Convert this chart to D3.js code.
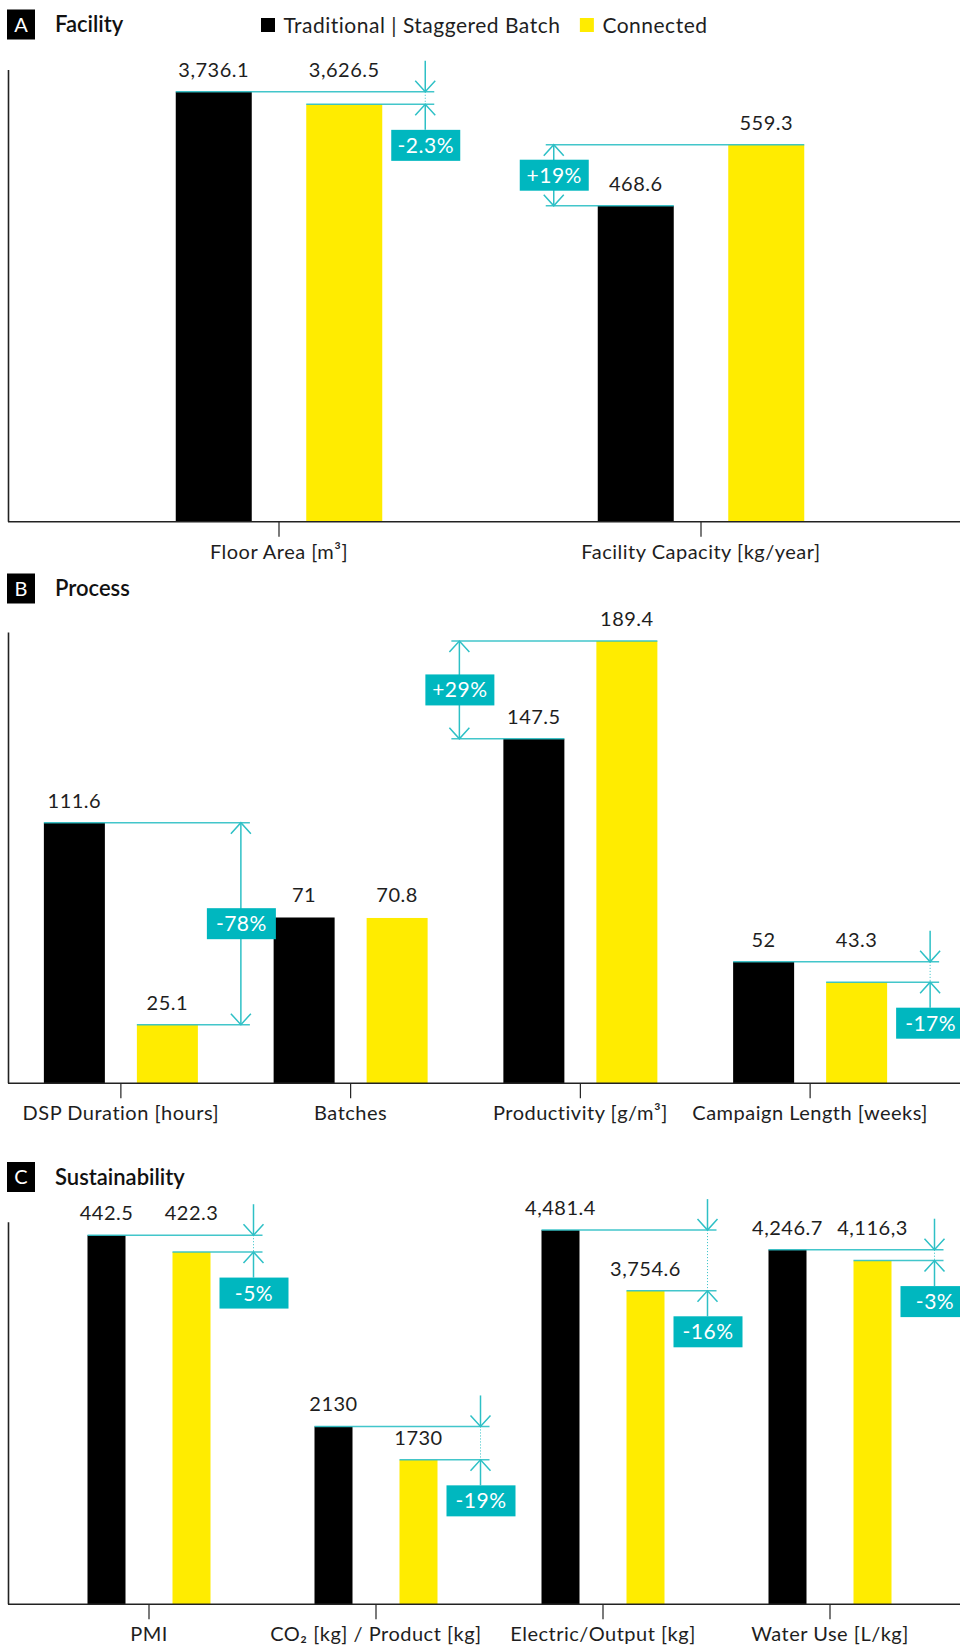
<!DOCTYPE html>
<html><head><meta charset="utf-8">
<script src="https://cdn.jsdelivr.net/npm/d3@7"></script>
<style>
body{margin:0;background:#fff;}
svg text{font-family:Lato,'Open Sans',sans-serif;}
</style></head><body>
<svg id="chart" width="960" height="1645"></svg>
<script>
// ---------------- data ----------------
const seriesNames = ["Traditional | Staggered Batch", "Connected"];

const facilityCategories = ["Floor Area [m³]", "Facility Capacity [kg/year]"];
const facilityTraditional = [3736.1, 468.6];
const facilityConnected = [3626.5, 559.3];
const facilityTradLabels = ["3,736.1", "468.6"];
const facilityConnLabels = ["3,626.5", "559.3"];
const facilityChange = ["-2.3%", "+19%"];
const facilityDomainMax = [3925, 670];

const processCategories = ["DSP Duration [hours]", "Batches", "Productivity [g/m³]", "Campaign Length [weeks]"];
const processTraditional = [111.6, 71, 147.5, 52];
const processConnected = [25.1, 70.8, 189.4, 43.3];
const processTradLabels = ["111.6", "71", "147.5", "52"];
const processConnLabels = ["25.1", "70.8", "189.4", "43.3"];
const processChange = ["-78%", null, "+29%", "-17%"];
const processDomainMax = [193, 193, 193, 193];

const sustCategories = ["PMI", "CO₂ [kg] / Product [kg]", "Electric/Output [kg]", "Water Use [L/kg]"];
const sustTraditional = [442.5, 2130, 4481.4, 4246.7];
const sustConnected = [422.3, 1730, 3754.6, 4116.3];
const sustTradLabels = ["442.5", "2130", "4,481.4", "4,246.7"];
const sustConnLabels = ["422.3", "1730", "3,754.6", "4,116,3"];
const sustChange = ["-5%", "-19%", "-16%", "-3%"];
const sustDomainMax = [458, 4575, 4575, 4575];

// ---------------- style ----------------
const C = {trad:"#000000", conn:"#FFEC00", box:"#00B7BF", line:"#2EC0C6", text:"#1e1e1e", axis:"#222"};
const FS = 20, LS = 0.5;
const svg = d3.select("#chart");

function header(letter, title, yc) {
  const g = svg.append("g");
  g.append("rect").attr("x", 7).attr("y", yc - 15).attr("width", 28).attr("height", 30).attr("fill", "#000");
  g.append("text").attr("x", 21).attr("y", yc).attr("dy", "0.36em").attr("text-anchor", "middle")
    .attr("fill", "#fff").attr("font-size", 20).text(letter);
  g.append("text").attr("x", 55).attr("y", yc).attr("dy", "0.36em").attr("font-size", 22)
    .attr("font-weight", 600).attr("fill", "#111").text(title);
}

function legend() {
  const g = svg.append("g");
  let x = 261;
  const cols = [C.trad, C.conn];
  seriesNames.forEach((n, i) => {
    g.append("rect").attr("x", x).attr("y", 18).attr("width", 14).attr("height", 14).attr("fill", cols[i]);
    const t = g.append("text").attr("x", x + 22.5).attr("y", 25).attr("dy", "0.36em")
      .attr("font-size", 21).attr("fill", C.text).attr("letter-spacing", LS).text(n);
    x += 22.5 + t.node().getComputedTextLength() + 19.5;
  });
}

function chevron(g, x, yTip, dir) { // dir +1 points down, -1 points up
  g.append("path").attr("d", `M${x - 10},${yTip - dir * 11}L${x},${yTip}L${x + 10},${yTip - dir * 11}`)
    .attr("fill", "none").attr("stroke", C.line).attr("stroke-width", 1.5);
}
function vline(g, x, y1, y2, dotted) {
  const l = g.append("line").attr("x1", x).attr("x2", x).attr("y1", y1).attr("y2", y2)
    .attr("stroke", C.line).attr("stroke-width", dotted ? 1 : 1.5);
  if (dotted) l.attr("stroke-dasharray", "1,2");
}
function hline(g, x1, x2, y) {
  g.append("line").attr("x1", x1).attr("x2", x2).attr("y1", y).attr("y2", y)
    .attr("stroke", C.line).attr("stroke-width", 1.5).attr("opacity", 0.9);
}
function badge(g, cx, y, text) {
  g.append("rect").attr("x", cx - 34.5).attr("y", y).attr("width", 69).attr("height", 31).attr("fill", C.box);
  g.append("text").attr("x", cx).attr("y", y + 15.5).attr("dy", "0.36em").attr("text-anchor", "middle")
    .attr("fill", "#fff").attr("font-size", 21).attr("letter-spacing", LS).text(text);
}

function panel(p) {
  const g = svg.append("g");
  const x0 = d3.scaleBand().domain(p.categories).range(p.xRange);
  const pin = 1 - p.barWidth / p.innerStep;
  const x1 = d3.scaleBand().domain(["trad", "conn"]).range([-p.innerStep, p.innerStep])
    .paddingInner(pin).paddingOuter(pin / 2);
  const ys = p.categories.map((c, i) => d3.scaleLinear().domain([0, p.domainMax[i]]).range([p.baseline, p.top]));

  // axes
  g.append("line").attr("x1", 8.5).attr("x2", 8.5).attr("y1", p.top).attr("y2", p.baseline)
    .attr("stroke", C.axis).attr("stroke-width", 1.6);
  const ax = g.append("g").attr("transform", `translate(0,${p.baseline})`)
    .call(d3.axisBottom(x0).tickSize(15).tickPadding(8).tickSizeOuter(0));
  ax.select(".domain").remove();
  ax.selectAll(".tick line").attr("stroke", C.axis).attr("stroke-width", 1.2);
  ax.selectAll(".tick text").attr("font-size", FS).attr("fill", C.text).attr("font-family", null)
    .attr("letter-spacing", LS);

  const bars = g.append("g");
  const ann = g.append("g");
  const labels = g.append("g");

  p.categories.forEach((cat, i) => {
    const cx = x0(cat) + x0.bandwidth() / 2;
    const y = ys[i];
    const bw = x1.bandwidth();
    const tL = cx + x1("trad"), cL = cx + x1("conn");
    const vT = p.trad[i], vC = p.conn[i];
    const yT = y(vT), yC = y(vC);
    bars.append("rect").attr("x", tL).attr("y", yT).attr("width", bw).attr("height", p.baseline - yT).attr("fill", C.trad);
    bars.append("rect").attr("x", cL).attr("y", yC).attr("width", bw).attr("height", p.baseline - yC).attr("fill", C.conn);

    // value labels
    const lyT = yT - 15;
    const lyC = (yC - yT >= 0 && yC - yT < 25) ? lyT : yC - 15;
    labels.append("text").attr("x", tL + bw / 2).attr("y", lyT).attr("text-anchor", "middle")
      .attr("font-size", FS).attr("fill", C.text).attr("letter-spacing", LS).text(p.tradLabels[i]);
    labels.append("text").attr("x", cL + bw / 2).attr("y", lyC).attr("text-anchor", "middle")
      .attr("font-size", FS).attr("fill", C.text).attr("letter-spacing", LS).text(p.connLabels[i]);

    const ch = p.change[i];
    if (!ch) return;
    if (vC > vT) {
      // increase: double arrow left of the traditional bar
      const a = tL - 44;
      hline(ann, a - 8, cL + bw, yC);
      hline(ann, a - 8, tL + bw, yT);
      vline(ann, a, yC, yT);
      chevron(ann, a, yC, -1);
      chevron(ann, a, yT, 1);
      badge(ann, a + 0.5, (yC + yT) / 2 - 15.5, ch);
    } else if ((vT - vC) / vT > 0.5) {
      const a = cL + bw + 43;
      hline(ann, tL, a + 9, yT);
      hline(ann, cL, a + 9, yC);
      vline(ann, a, yT, yC);
      chevron(ann, a, yT, -1);
      chevron(ann, a, yC, 1);
      badge(ann, a + 0.5, (yC + yT) / 2 - 15.5, ch);
    } else {
      const a = cL + bw + 43;
      hline(ann, tL, a + 9, yT);
      hline(ann, cL, a + 9, yC);
      vline(ann, a, yT - 31, yT);
      chevron(ann, a, yT, 1);
      vline(ann, a, yT, yC, true);
      chevron(ann, a, yC, -1);
      vline(ann, a, yC, yC + 25.5);
      badge(ann, a + 0.5, yC + 25.5, ch);
    }
  });
}

header("A", "Facility", 24.5);
legend();
panel({categories: facilityCategories, trad: facilityTraditional, conn: facilityConnected,
  tradLabels: facilityTradLabels, connLabels: facilityConnLabels, change: facilityChange,
  domainMax: facilityDomainMax, top: 70, baseline: 521.7, xRange: [68, 912], innerStep: 130.5, barWidth: 76});

header("B", "Process", 588.5);
panel({categories: processCategories, trad: processTraditional, conn: processConnected,
  tradLabels: processTradLabels, connLabels: processConnLabels, change: processChange,
  domainMax: processDomainMax, top: 632.6, baseline: 1083.3, xRange: [6, 925], innerStep: 93, barWidth: 61});

header("C", "Sustainability", 1177);
panel({categories: sustCategories, trad: sustTraditional, conn: sustConnected,
  tradLabels: sustTradLabels, connLabels: sustConnLabels, change: sustChange,
  domainMax: sustDomainMax, top: 1222.3, baseline: 1604.3, xRange: [35.5, 943.5], innerStep: 85, barWidth: 38});

// baselines across full width
[521.7, 1083.3, 1604.3].forEach(b => svg.append("line").attr("x1", 8).attr("x2", 960)
  .attr("y1", b).attr("y2", b).attr("stroke", C.axis).attr("stroke-width", 1.6));
</script>
</body></html>
